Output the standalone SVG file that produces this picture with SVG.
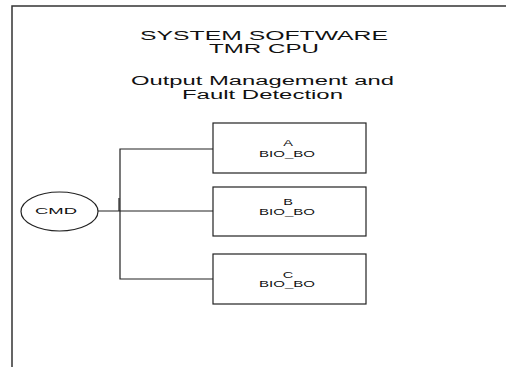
<svg xmlns="http://www.w3.org/2000/svg" width="506" height="367" viewBox="0 0 506 367">
<style>
text{font-family:"Liberation Sans",Arial,sans-serif;fill:#111}
.t{font-size:12.5px}
.s{font-size:9px}
.box{fill:#fff;stroke:#222;stroke-width:1.2}
.ln{fill:none;stroke:#222;stroke-width:1.2}
.frame{fill:none;stroke:#333;stroke-width:1.5}
</style>
<rect width="506" height="367" fill="#fff"/>
<path class="frame" d="M12,367 V6 H506"/>
<g id="title">
<text class="t" x="140" y="39.5" textLength="248" lengthAdjust="spacingAndGlyphs">SYSTEM SOFTWARE</text>
<text class="t" x="209" y="53" textLength="110" lengthAdjust="spacingAndGlyphs">TMR CPU</text>
<text class="t" x="131" y="85" textLength="263" lengthAdjust="spacingAndGlyphs">Output Management and</text>
<text class="t" x="182" y="99" textLength="161" lengthAdjust="spacingAndGlyphs">Fault Detection</text>
</g>
<g id="connectors">
<path class="ln" d="M98,211 H213"/>
<path class="ln" d="M213,149 H120 V279 H213"/>
<path class="ln" d="M119,198 V211" stroke-width="1"/>
</g>
<g id="cmd">
<ellipse class="box" cx="59.5" cy="211.5" rx="38.5" ry="19.5"/>
<text class="s" x="35" y="214" textLength="42" lengthAdjust="spacingAndGlyphs">CMD</text>
</g>
<g id="boxA">
<rect class="box" x="213" y="123" width="153" height="50"/>
<text class="s" x="283.2" y="146" textLength="9.7" lengthAdjust="spacingAndGlyphs">A</text>
<text class="s" x="259" y="156.5" textLength="56" lengthAdjust="spacingAndGlyphs">BIO_BO</text>
</g>
<g id="boxB">
<rect class="box" x="213" y="187" width="153" height="49"/>
<text class="s" x="283.2" y="205" textLength="9.7" lengthAdjust="spacingAndGlyphs">B</text>
<text class="s" x="259" y="214.5" textLength="56" lengthAdjust="spacingAndGlyphs">BIO_BO</text>
</g>
<g id="boxC">
<rect class="box" x="213" y="254" width="153" height="50"/>
<text class="s" x="282.8" y="277.5" textLength="10.5" lengthAdjust="spacingAndGlyphs">C</text>
<text class="s" x="259" y="287" textLength="56" lengthAdjust="spacingAndGlyphs">BIO_BO</text>
</g>
</svg>
